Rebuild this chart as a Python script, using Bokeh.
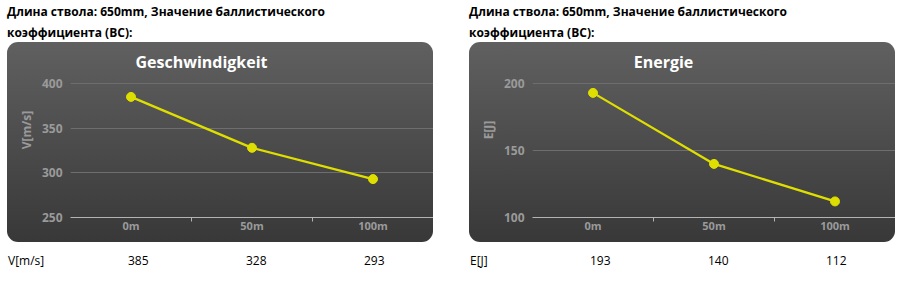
from bokeh.plotting import figure
from bokeh.layouts import row, column
from bokeh.models import Range1d, FixedTicker, Label, Div
from bokeh.embed import file_html
from bokeh.resources import INLINE

# ---- data ----
categories = ["0m", "50m", "100m"]
speed = [385, 328, 293]
energy = [193, 140, 112]
speed_ticks = [250, 300, 350, 400]
energy_ticks = [100, 150, 200]
header_1 = "Длина ствола: 650mm, Значение баллистического"
header_2 = "коэффициента (BC):"

FONT = "Open Sans"
YELLOW = "#dede00"
GREY = "#9a9a9a"

PW, PH = 426, 200          # rounded panel size
FL, FB = 63, 25            # frame offsets inside the panel (left, bottom)
GRID_SPAN = 134            # px between lowest and highest tick


def chart(title, ylabel, values, yticks):
    ppu = GRID_SPAN / (yticks[-1] - yticks[0])
    frame_h = PH - FB
    ymax = yticks[0] + frame_h / ppu
    n = len(categories)
    p = figure(width=PW, height=PH, output_backend="svg", toolbar_location=None,
               x_range=Range1d(0, n), y_range=Range1d(yticks[0], ymax),
               min_border_left=FL, min_border_right=0,
               min_border_top=0, min_border_bottom=FB,
               margin=(0, 0, 0, 7),
               styles={"background": "linear-gradient(to bottom, #606060, #383838)",
                       "border-radius": "11px", "overflow": "hidden"})
    p.outline_line_color = None
    p.background_fill_alpha = 0
    p.border_fill_alpha = 0

    xs = [i + 0.5 for i in range(n)]
    p.line(xs, values, line_color=YELLOW, line_width=2.3)
    p.scatter(xs, values, size=9, fill_color=YELLOW, line_color=YELLOW)

    xa = p.xaxis[0]
    xa.ticker = FixedTicker(ticks=xs, minor_ticks=list(range(1, n)))
    xa.major_label_overrides = {x: c for x, c in zip(xs, categories)}
    xa.axis_line_color = "#b4b4b4"
    xa.major_tick_line_color = None
    xa.major_tick_out = 0
    xa.major_tick_in = 0
    xa.minor_tick_line_color = "#b4b4b4"
    xa.minor_tick_out = 4
    xa.minor_tick_in = 0
    xa.major_label_text_color = GREY
    xa.major_label_text_font = FONT
    xa.major_label_text_font_style = "bold"
    xa.major_label_text_font_size = "11px"
    xa.major_label_standoff = -4

    ya = p.yaxis[0]
    ya.ticker = FixedTicker(ticks=yticks)
    ya.axis_line_color = None
    ya.major_tick_line_color = None
    ya.major_tick_out = 0
    ya.major_tick_in = 0
    ya.minor_tick_line_color = None
    ya.major_label_text_color = GREY
    ya.major_label_text_font = FONT
    ya.major_label_text_font_style = "bold"
    ya.major_label_text_font_size = "12px"
    ya.major_label_standoff = 8
    ya.axis_label = ylabel
    ya.axis_label_text_color = GREY
    ya.axis_label_text_font = FONT
    ya.axis_label_text_font_style = "bold"
    ya.axis_label_text_font_size = "12px"
    ya.axis_label_standoff = 4

    p.xgrid.grid_line_color = None
    p.ygrid.grid_line_color = "#6e6e6e"

    frame_w = PW - FL
    p.add_layout(Label(x=(194 - FL) / frame_w * n, y=ymax - 19 / ppu, text=title,
                       text_align="center", text_baseline="middle",
                       text_color="white", text_font=FONT, text_font_style="bold",
                       text_font_size="16px"))
    return p


def header(width):
    html = ("<div style=\"font-family:'Open Sans';font-weight:bold;font-size:12px;"
            "line-height:21px;color:#000;margin:0 0 0 7px;padding:1px 0 0 0;white-space:nowrap\">"
            f"{header_1}<br>{header_2}</div>")
    return Div(text=html, width=width, height=42, margin=0)


def bottom(width, label, values):
    spans = [f"<span style='position:absolute;left:8px;top:10px'>{label}</span>"]
    for i, v in enumerate(values):
        spans.append(f"<span style='position:absolute;left:{7 + 121 + 118 * i}px;top:10px'>{v}</span>")
    html = ("<div style=\"position:relative;width:%dpx;height:39px;font-family:'Open Sans';"
            "font-size:12px;line-height:18px;color:#000\">%s</div>" % (width, "".join(spans)))
    return Div(text=html, width=width, height=39, margin=0)


p1 = chart("Geschwindigkeit", "V[m/s]", speed, speed_ticks)
p2 = chart("Energie", "E[J]", energy, energy_ticks)

left = column(header(462), p1, bottom(462, "V[m/s]", speed), width=462, spacing=0)
right = column(header(442), p2, bottom(442, "E[J]", energy), width=442, spacing=0)
layout = row(left, right, spacing=0)
open("out.html", "w").write(file_html(layout, INLINE))
